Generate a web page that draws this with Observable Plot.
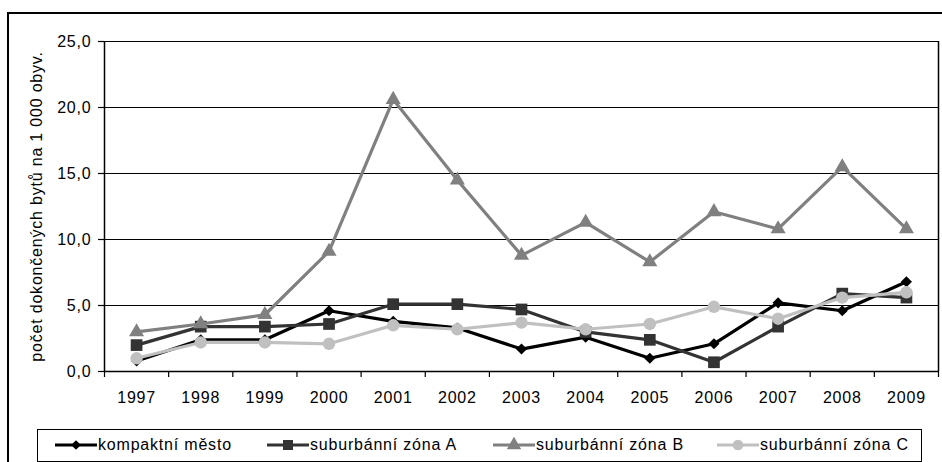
<!DOCTYPE html>
<html>
<head>
<meta charset="utf-8">
<script src="https://cdn.jsdelivr.net/npm/d3@7"></script>
<script src="https://cdn.jsdelivr.net/npm/@observablehq/plot@0.6"></script>
<style>
  html, body { margin: 0; padding: 0; background: #fff; overflow: hidden; width: 942px; height: 462px; }
  #wrap { position: relative; width: 942px; height: 462px; font-family: "Liberation Sans", Arial, sans-serif; }
  #chart { position: absolute; left: 0; top: 0; }
  #frame { position: absolute; left: 7px; top: 12px; width: 1000px; height: 500px; border: 2px solid #000; pointer-events: none; }
  #legend { position: absolute; left: 37px; top: 429px; width: 885px; height: 33px; box-sizing: border-box; border: 1.5px solid #000; background: #fff; }
  .item { position: absolute; top: 0; height: 30px; display: flex; align-items: center; font-size: 16px; letter-spacing: 0.8px; color: #000; white-space: nowrap; }
  .item svg { display: block; margin-right: 1px; }
</style>
</head>
<body>
<div id="wrap">
  <div id="chart"></div>
  <div id="legend"></div>
  <div id="frame"></div>
</div>
<script>
// ---- data ----
const years = [1997, 1998, 1999, 2000, 2001, 2002, 2003, 2004, 2005, 2006, 2007, 2008, 2009];
const seriesNames = ["kompaktní město", "suburbánní zóna A", "suburbánní zóna B", "suburbánní zóna C"];
const kompaktniMesto = [0.8, 2.4, 2.4, 4.6, 3.8, 3.3, 1.7, 2.6, 1.0, 2.1, 5.2, 4.6, 6.8];
const zonaA = [2.0, 3.4, 3.4, 3.6, 5.1, 5.1, 4.7, 3.0, 2.4, 0.7, 3.4, 5.9, 5.6];
const zonaB = [3.0, 3.6, 4.3, 9.1, 20.6, 14.5, 8.8, 11.3, 8.3, 12.1, 10.8, 15.5, 10.8];
const zonaC = [1.0, 2.2, 2.2, 2.1, 3.5, 3.2, 3.7, 3.2, 3.6, 4.9, 4.0, 5.6, 6.0];
const yTicks = [0, 5, 10, 15, 20, 25];
const yLabel = "počet dokončených bytů na 1 000 obyv.";

// ---- styles ----
const seriesValues = [kompaktniMesto, zonaA, zonaB, zonaC];
const seriesColors = ["#000000", "#333333", "#808080", "#c0c0c0"];
const seriesSymbols = ["diamond2", "square", "triangle", "circle"];
const seriesR = [5, 6.6, 5.6, 6.2];

const rows = seriesNames.flatMap((name, i) =>
  years.map((year, j) => ({series: name, year, value: seriesValues[i][j]})));

const boundaries = [years[0] - 0.5, ...years.map(y => y + 0.5)];
const fmt = d => d.toFixed(1).replace(".", ",");

const seriesMarks = seriesNames.flatMap((name, i) => {
  const d = rows.filter(r => r.series === name);
  return [
    Plot.line(d, {x: "year", y: "value", stroke: seriesColors[i], strokeWidth: 3.2}),
    Plot.dot(d, {x: "year", y: "value", symbol: seriesSymbols[i], fill: seriesColors[i], stroke: "none", r: seriesR[i]})
  ];
});

const chart = Plot.plot({
  width: 942,
  height: 428,
  marginLeft: 104,
  marginRight: 4,
  marginTop: 41,
  marginBottom: 57,
  style: "font-family: 'Liberation Sans', Arial, sans-serif; font-size: 16px; letter-spacing: 0.8px; overflow: visible; background: transparent; color: #000;",
  x: {domain: [boundaries[0], boundaries[boundaries.length - 1]]},
  y: {domain: [0, 25]},
  marks: [
    Plot.gridY(yTicks.filter(d => d > 0), {stroke: "#000", strokeOpacity: 1, strokeWidth: 1.2}),
    Plot.ruleX([boundaries[0], boundaries[boundaries.length - 1]], {stroke: "#000", strokeWidth: 1.5}),
    Plot.ruleY([0], {stroke: "#000", strokeWidth: 1.5}),
    Plot.axisY({ticks: yTicks, tickSize: 6, tickPadding: 7, tickFormat: fmt, label: null, stroke: "#000", strokeWidth: 1.2}),
    Plot.axisX({ticks: boundaries, tickSize: 6, tickFormat: () => "", label: null, stroke: "#000", strokeWidth: 1.2}),
    Plot.axisX({ticks: years, tickSize: 0, tickPadding: 20, tickFormat: d => String(d), label: null}),
    Plot.text([yLabel], {frameAnchor: "left", text: d => d, rotate: -90, dx: -68, textAnchor: "middle", lineAnchor: "middle", fontSize: 16, fill: "#000"}),
    ...seriesMarks
  ]
});
document.getElementById("chart").appendChild(chart);

// ---- legend ----
const legend = document.getElementById("legend");
const itemLefts = [17, 229, 455, 679];
const legendSymbols = [d3.symbolDiamond2, d3.symbolSquare, d3.symbolTriangle, d3.symbolCircle];
const legendSizes = [60, 100, 90, 90];
seriesNames.forEach((name, i) => {
  const item = document.createElement("div");
  item.className = "item";
  item.style.left = itemLefts[i] + "px";
  const ns = "http://www.w3.org/2000/svg";
  const s = document.createElementNS(ns, "svg");
  s.setAttribute("width", 42);
  s.setAttribute("height", 16);
  const ln = document.createElementNS(ns, "line");
  ln.setAttribute("x1", 0); ln.setAttribute("x2", 42);
  ln.setAttribute("y1", 8); ln.setAttribute("y2", 8);
  ln.setAttribute("stroke", seriesColors[i]);
  ln.setAttribute("stroke-width", 3.2);
  s.appendChild(ln);
  const p = document.createElementNS(ns, "path");
  p.setAttribute("d", d3.symbol(legendSymbols[i], legendSizes[i])());
  p.setAttribute("transform", "translate(21,8)");
  p.setAttribute("fill", seriesColors[i]);
  s.appendChild(p);
  item.appendChild(s);
  const t = document.createElement("span");
  t.textContent = name;
  item.appendChild(t);
  legend.appendChild(item);
});
</script>
</body>
</html>
